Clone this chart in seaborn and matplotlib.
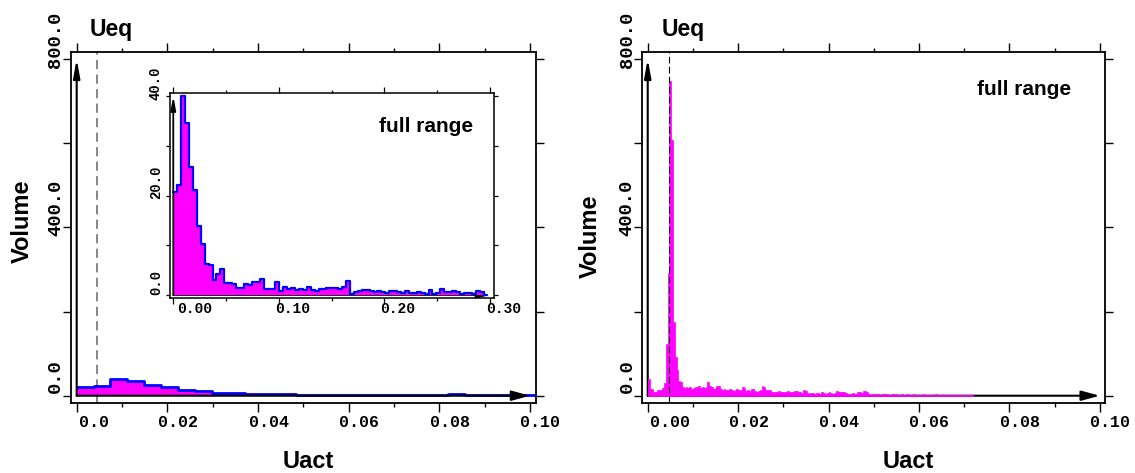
import numpy as np
import pandas as pd
import matplotlib
matplotlib.use("Agg")
import matplotlib.pyplot as plt
import matplotlib.transforms as mtransforms
import seaborn as sns

# ---------------------------------------------------------------- data
# Coarse histogram of Uact (volume per bin), shown zoomed in the left panel
# and over its full range in the inset.
coarse_bin_width = 0.00372
coarse_volume = [
    20.8, 22.1, 40.0, 34.6, 25.8, 21.1, 13.9, 10.2, 6.2, 6.0,
    3.0, 4.2, 5.2, 2.5, 2.4, 2.3, 1.5, 1.5, 2.2, 2.1,
    2.6, 2.6, 3.2, 1.3, 1.3, 1.2, 2.7, 0.9, 1.7, 1.3,
    1.5, 1.1, 1.3, 1.1, 1.7, 1.1, 0.9, 1.3, 1.3, 1.5,
    1.5, 1.5, 1.2, 1.7, 2.9, 0.3, 0.7, 0.8, 1.0, 1.0,
    0.9, 0.6, 0.9, 0.7, 0.4, 0.8, 0.8, 0.6, 0.5, 0.8,
    0.4, 0.5, 0.7, 0.5, 0.3, 1.1, 0.2, 0.4, 1.2, 0.7,
    0.6, 0.9, 0.6, 0.3, 0.5, 0.5, 0.2, 0.9, 0.6, 0.1,
]

# Fine histogram of Uact for the right panel
fine_bin_width = 0.0004
fine_volume = [
    39, 17, 17, 10, 9, 13, 13, 14, 18, 31,
    124, 291, 748, 607, 176, 93, 61, 36, 33,
    20, 19, 21, 18, 20, 17, 19, 21, 20, 22, 19, 20, 18, 21,
    32,
    24, 20, 17, 19, 24,
    22, 16, 14, 15,
    14, 13, 15, 14, 12, 14, 16, 13,
    14, 20, 19, 12,
    13, 11, 16,
    16, 12, 10, 11, 13, 24,
    20, 14, 13, 14,
    9, 8, 10, 9, 12, 8, 9, 10, 8, 11, 9, 8, 10,
    12, 11,
    8, 9, 7,
    13, 12,
    6, 5, 7, 6, 5, 6, 7, 5,
    9,
    6, 5, 6,
    9,
    6, 5, 7,
    11, 10,
    9, 8, 9, 7,
    5, 4, 5, 6, 4, 5,
    9, 8, 7,
    11, 12, 10,
    3, 2, 3, 3, 2, 3, 2, 3, 3, 2,
    3, 2, 2, 3, 2, 3, 2, 2, 3, 2,
    2, 3, 2, 2, 2, 3, 2, 2, 2, 2,
    3, 2, 2, 2, 2, 2, 2, 3, 2, 2,
    2, 2, 2, 2, 2, 2, 2, 2, 2, 2,
    2, 2, 2, 2, 2, 2, 2, 1,
]

# equilibrium value marked by the dashed line
ueq_left = 0.00455
ueq_right = 0.0047

main_xticks = [0.0, 0.02, 0.04, 0.06, 0.08, 0.10]
main_xminor = [0.01, 0.03, 0.05, 0.07, 0.09]
left_xlabels = ["0.0", "0.02", "0.04", "0.06", "0.08", "0.10"]
right_xlabels = ["0.00", "0.02", "0.04", "0.06", "0.08", "0.10"]
main_yticks = [0, 200, 400, 600, 800]
main_ylabel_ticks = [0, 400, 800]
main_ylabels = ["0.0", "400.0", "800.0"]

inset_xticks = [0.0, 0.1, 0.2, 0.3]
inset_xminor = [0.05, 0.15, 0.25]
inset_xlabels = ["0.00", "0.10", "0.20", "0.30"]
inset_yticks = [0, 10, 20, 30, 40]
inset_ylabel_ticks = [0, 20, 40]
inset_ylabels = ["0.0", "20.0", "40.0"]


def hist_frame(width, volume):
    n = len(volume)
    left = np.arange(n) * width
    edges = (np.arange(n + 1) * width).tolist()
    return pd.DataFrame({"uact": left + width / 2, "volume": volume}), edges


coarse_df, coarse_edges = hist_frame(coarse_bin_width, coarse_volume)
fine_df, fine_edges = hist_frame(fine_bin_width, fine_volume)

# ---------------------------------------------------------------- style
sns.set_style("white")
plt.rcParams["font.family"] = ["Liberation Sans", "DejaVu Sans"]
plt.rcParams["text.color"] = "black"
plt.rcParams["axes.labelcolor"] = "black"

MAGENTA = "#FF00FF"
BLUE = "#0000FF"
MONO = "Liberation Mono"
DPI = 100
W, H = 1135, 473

fig = plt.figure(figsize=(W / DPI, H / DPI), dpi=DPI)


def shift(dx, dy):
    """Offset in pixels: dx to the right, dy downwards."""
    return mtransforms.ScaledTranslation(dx / DPI, -dy / DPI, fig.dpi_scale_trans)


def box(left, top, right, bottom):
    return [left / W, (H - bottom) / H, (right - left) / W, (bottom - top) / H]


def frame(ax, lw):
    for s in ax.spines.values():
        s.set_visible(True)
        s.set_color("black")
        s.set_linewidth(lw)
    ax.grid(False)
    ax.set_facecolor("white")
    ax.set_xlabel("")
    ax.set_ylabel("")


def x_ticklabels(ax, ticks, labels, size, first_dx, rest_dx, dy):
    tr = ax.get_xaxis_transform()
    for i, (t, lab) in enumerate(zip(ticks, labels)):
        if i == 0:
            ax.text(t, 0, lab, transform=tr + shift(first_dx, dy), ha="left",
                    va="baseline", fontsize=size, family=MONO, fontweight="bold",
                    color="black", clip_on=False)
        else:
            ax.text(t, 0, lab, transform=tr + shift(rest_dx, dy), ha="right",
                    va="baseline", fontsize=size, family=MONO, fontweight="bold",
                    color="black", clip_on=False)


def y_ticklabels(ax, ticks, labels, size, dx, dy):
    tr = ax.get_yaxis_transform()
    for t, lab in zip(ticks, labels):
        ax.text(0, t, lab, transform=tr + shift(-dx, -dy), rotation=90,
                rotation_mode="anchor", ha="center", va="baseline",
                fontsize=size, family=MONO, fontweight="bold", color="black",
                clip_on=False)


def arrow(ax, start, end, lw, hl, hw, ms, z):
    ax.annotate("", xy=end, xytext=start,
                arrowprops=dict(arrowstyle=f"-|>,head_length={hl},head_width={hw}",
                                color="black", lw=lw, shrinkA=0, shrinkB=0,
                                mutation_scale=ms),
                zorder=z, annotation_clip=False)


def main_panel(ax, xlabels):
    frame(ax, 1.3)
    ax.set_xticks(main_xticks)
    ax.set_xticks(main_xminor, minor=True)
    ax.set_yticks(main_yticks)
    ax.tick_params(which="both", direction="out", top=True, right=True,
                   bottom=True, left=True, labelbottom=False, labelleft=False,
                   color="black", width=1.0)
    ax.tick_params(axis="x", which="major", length=6.8)
    ax.tick_params(axis="x", which="minor", length=3.2)
    ax.tick_params(axis="y", which="major", length=5.8)
    x_ticklabels(ax, main_xticks, xlabels, 12, 2, 30.5, 24)
    y_ticklabels(ax, main_ylabel_ticks, main_ylabels, 13.5, 10.7, 19.5)
    arrow(ax, (0, 0), (0, 800), 1.5, 1.1, 0.2, 10, 1)
    arrow(ax, (0, 0), (0.1, 0), 1.5, 1.1, 0.3, 10, 1)


def lock_axes(ax, xlim, ylim):
    ax.set_xlim(*xlim)
    ax.set_ylim(*ylim)


# ---------------------------------------------------------------- left panel
ax1 = fig.add_axes(box(70.7, 51.7, 535.7, 402.7))
main_panel(ax1, left_xlabels)
sns.histplot(data=coarse_df, x="uact", weights="volume", bins=coarse_edges,
             element="step", fill=True, color=MAGENTA, alpha=1, linewidth=0,
             ax=ax1, zorder=0.5)
sns.histplot(data=coarse_df, x="uact", weights="volume", bins=coarse_edges,
             element="step", fill=False, color=BLUE, linewidth=2.0, ax=ax1,
             zorder=0.6)
ax1.axvline(ueq_left, color="#666666", lw=1.1, dashes=(6, 3.5), zorder=0.4)
frame(ax1, 1.3)
lock_axes(ax1, (-0.00132, 0.10126), (-16.6, 817.3))

# ---------------------------------------------------------------- inset
ax3 = fig.add_axes(box(170, 93.3, 494.3, 298.3))
ax3.set_zorder(5)
frame(ax3, 1.1)
ax3.set_xticks(inset_xticks)
ax3.set_xticks(inset_xminor, minor=True)
ax3.set_yticks(inset_yticks)
ax3.tick_params(which="both", direction="out", top=True, right=True,
                bottom=True, left=True, labelbottom=False, labelleft=False,
                color="black", width=0.9)
ax3.tick_params(axis="x", which="major", length=4.3)
ax3.tick_params(axis="x", which="minor", length=2.4)
ax3.tick_params(axis="y", which="major", length=3.2)
arrow(ax3, (0, 0), (0.3, 0), 1.2, 0.8, 0.2, 10, 1)
sns.histplot(data=coarse_df, x="uact", weights="volume", bins=coarse_edges,
             element="step", fill=True, color=MAGENTA, alpha=1, linewidth=0,
             ax=ax3, zorder=1.5)
sns.histplot(data=coarse_df, x="uact", weights="volume", bins=coarse_edges,
             element="step", fill=False, color=BLUE, linewidth=1.6, ax=ax3,
             zorder=1.6)
arrow(ax3, (0, 0), (0, 40), 1.3, 0.8, 0.15, 10, 3)
frame(ax3, 1.1)
lock_axes(ax3, (-0.0031, 0.3041), (-0.66, 40.54))
x_ticklabels(ax3, inset_xticks, inset_xlabels, 10.5, 3.4, 31, 15)
y_ticklabels(ax3, inset_ylabel_ticks, inset_ylabels, 10, 10, 13)
ax3.text(1, 1, "full range", transform=ax3.transAxes + shift(-21, 39),
         ha="right", va="baseline", fontsize=15, fontweight="bold", color="black")

# ---------------------------------------------------------------- right panel
ax2 = fig.add_axes(box(642.3, 51.7, 1105.4, 402.7))
main_panel(ax2, right_xlabels)
sns.histplot(data=fine_df, x="uact", weights="volume", bins=fine_edges,
             element="bars", fill=True, color=MAGENTA, alpha=1,
             edgecolor=MAGENTA, linewidth=0.5, ax=ax2, zorder=2)
ax2.axvline(ueq_right, color="black", lw=0.8, dashes=(6, 3), zorder=3)
frame(ax2, 1.3)
lock_axes(ax2, (-0.0012, 0.10126), (-16.6, 817.3))
ax2.text(1, 1, "full range", transform=ax2.transAxes + shift(-34, 43),
         ha="right", va="baseline", fontsize=15, fontweight="bold", color="black")

# ---------------------------------------------------------------- axis titles
for ax, ueq, vol_dx, vol_dy, uact_dx in [(ax1, ueq_left, 42, -5.5, 5),
                                          (ax2, ueq_right, 45.6, 9.5, 34)]:
    ax.text(ueq, 1, "Ueq", transform=ax.get_xaxis_transform() + shift(-7.5, -16),
            ha="left", va="baseline", fontsize=16.5, fontweight="bold",
            color="black")
    ax.text(0, 0.5, "Volume", transform=ax.transAxes + shift(-vol_dx, vol_dy),
            rotation=90, rotation_mode="anchor", ha="center", va="baseline",
            fontsize=17, fontweight="bold", color="black")
    ax.text(0.5, 0, "Uact", transform=ax.transAxes + shift(uact_dx, 65.3),
            ha="center", va="baseline", fontsize=17, fontweight="bold",
            color="black")

fig.savefig("out.png", dpi=DPI, facecolor="white")
